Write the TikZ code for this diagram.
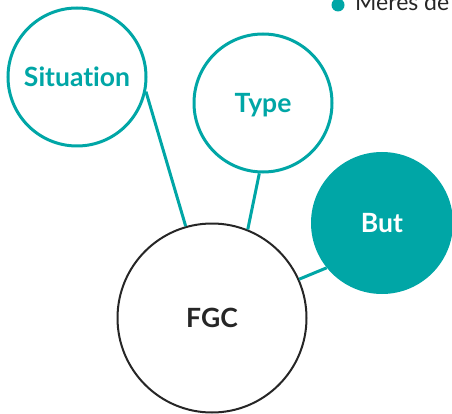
\documentclass[tikz,border=0pt]{standalone}
\usepackage{fontspec}
\setmainfont{Lato}[Ligatures=NoCommon]
\definecolor{teal}{HTML}{00A6A6}
\definecolor{ink}{HTML}{262626}
\begin{document}
\begin{tikzpicture}[x=1pt,y=-1pt,
  label font/.style={font=\fontsize{26.5}{30}\selectfont\bfseries,text depth=0pt},
  bubble/.style={circle,draw=teal,line width=3pt,minimum size=138pt,inner sep=0pt,
    text=teal,label font},
  link/.style={draw=teal,line width=3pt}]
\useasboundingbox (0,0) rectangle (452,414);
\node[bubble] (sit) at (77,77) {Situation};
\node[bubble] (type) at (263,103) {Type};
\node[circle,fill=teal,minimum size=142pt,inner sep=0pt,text=white,label font] (but) at (382,223) {But};
\node[circle,draw=ink,line width=2pt,minimum size=189pt,inner sep=0pt,text=ink,label font] (fgc) at (212,318) {FGC};
\draw[link] (sit.-12) -- (fgc.106);
\draw[link] (type.-93) -- (fgc.68);
\draw[link] (but.219) -- (fgc.24);
% legende
\fill[teal] (338,5) circle (6.5pt);
\node[anchor=base west,inner sep=0pt,text=ink,font=\fontsize{23}{28}\selectfont] (legend) at (355,11) {Mères de};
\end{tikzpicture}
\end{document}
